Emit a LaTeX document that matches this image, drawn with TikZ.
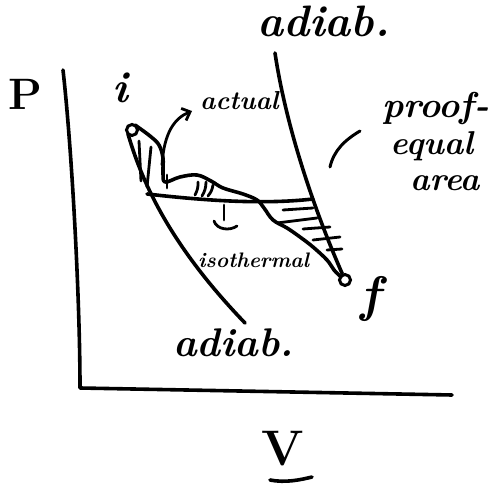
\documentclass[tikz,border=0pt]{standalone}
\usetikzlibrary{arrows.meta}
\begin{document}
\begin{tikzpicture}[x=1pt,y=-1pt,
  pen/.style={line width=3.6pt,line cap=round,line join=round},
  hatch/.style={line width=2.8pt,line cap=round},
  lbl/.style={inner sep=0pt},
]
\useasboundingbox (0,0) rectangle (491,487);
% axes
\coordinate (ytop) at (63,70);
\coordinate (orig) at (80,388);
\coordinate (xend) at (452,395);
\draw[pen] (ytop) .. controls (72,150) and (80,300) .. (orig) -- (xend);
% states
\node[draw,circle,line width=3pt,minimum size=11pt,inner sep=0pt] (i) at (132,130) {};
\node[draw,circle,line width=3pt,minimum size=11pt,inner sep=0pt] (f) at (345,280) {};
% adiabats
\coordinate (la0) at (128,134);
\coordinate (la1) at (245,323);
\draw[pen] (la0) .. controls (140,175) and (165,240) .. (la1);
\coordinate (ua0) at (275,53);
\draw[pen] (ua0) .. controls (285,120) and (310,200) .. (f);
% isotherm
\coordinate (is0) at (147,194);
\coordinate (is1) at (313,199);
\draw[pen] (is0) .. controls (200,200) and (260,205) .. (is1);
% actual path
\draw[pen] plot[smooth,tension=0.6] coordinates {(135,125) (150,136) (159,145) (163,158) (163,172) (165,182) (180,177) (197,175) (211,181) (223,188) (243,194) (257,200) (264,208) (273,220) (287,228) (300,237) (313,247) (327,260) (334,270) (341,277)};
% hatching left
\draw[hatch] (139,141) -- (141,181);
\draw[hatch] (151,147) -- (147,187);
\draw[hatch] (167,175) -- (167,188);
% hatching middle
\draw[hatch] (198,182) to[bend left=15] (195,195);
\draw[hatch] (206,182) to[bend left=15] (202,196);
\draw[hatch] (213,185) to[bend left=15] (208,196);
% hatching right
\draw[hatch] (283,210) -- (313,208);
\draw[hatch] (277,223) -- (317,218);
\draw[hatch] (303,229) -- (330,227);
\draw[hatch] (313,240) -- (340,237);
\draw[hatch] (327,250) -- (342,249);
% isotherm pointer
\coordinate (tk0) at (224,205);
\coordinate (tk1) at (224,220);
\draw[hatch] (tk0) -- (tk1);
\draw[hatch] (214,221) .. controls (217,230) and (230,231) .. (237,226);
% labels
\node[lbl,anchor=base west,font=\fontsize{44}{44}\selectfont\bfseries\itshape] (adtop) at (257,37) {adiab.};
\node[lbl,anchor=base west,font=\fontsize{40}{40}\selectfont\bfseries\itshape] (adbot) at (173,356) {adiab.};
\node[lbl,anchor=base west,font=\fontsize{26}{26}\selectfont\bfseries\itshape] (actual) at (200,110) {actual};
\node[lbl,anchor=base west,font=\fontsize{21}{21}\selectfont\bfseries\itshape] (iso) at (198,267) {isothermal};
\node[lbl,anchor=base west,font=\fontsize{36}{36}\selectfont\bfseries\itshape] (pr) at (382,118) {proof-};
\node[lbl,anchor=base west,font=\fontsize{33}{33}\selectfont\bfseries\itshape] (eq) at (390,155) {equal};
\node[lbl,anchor=base west,font=\fontsize{33}{33}\selectfont\bfseries\itshape] (ar) at (410,190) {area};
\node[lbl,anchor=base west,font=\fontsize{44}{44}\selectfont\bfseries] (P) at (8,110) {P};
\node[lbl,anchor=base west,font=\fontsize{44}{44}\selectfont\bfseries\itshape] (ilab) at (112,103) {i};
\node[lbl,anchor=base west,font=\fontsize{50}{50}\selectfont\bfseries\itshape] (flab) at (360,312) {f};
\node[lbl,anchor=base,font=\fontsize{50}{50}\selectfont\bfseries] (V) at (283,465) {V};
% arrow to actual
\coordinate (ac0) at (162,165);
\coordinate (ac1) at (192,111);
\draw[pen,line width=2.8pt,-{Straight Barb[length=7pt,width=13pt]}] (ac0) .. controls (164,132) and (175,118) .. (ac1);
% pointer to area
\coordinate (pa0) at (330,167);
\coordinate (pa1) at (360,131);
\draw[pen,line width=3pt] (pa0) .. controls (334,150) and (345,140) .. (pa1);
% V underline
\coordinate (u0) at (270,480);
\coordinate (u1) at (312,477);
\draw[pen] (u0) .. controls (285,483) and (300,480) .. (u1);
\end{tikzpicture}
\end{document}
